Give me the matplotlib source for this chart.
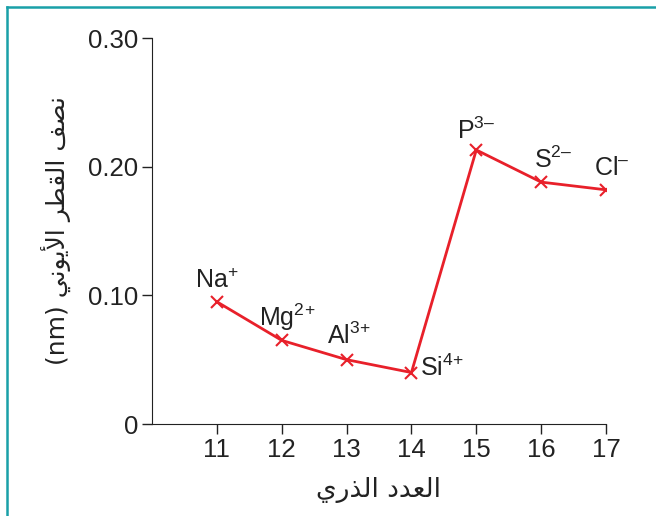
import matplotlib
matplotlib.use("Agg")
import matplotlib.pyplot as plt
from matplotlib.lines import Line2D

plt.rcParams['font.family'] = ['Liberation Sans', 'DejaVu Sans']
plt.rcParams['mathtext.fontset'] = 'custom'
plt.rcParams['mathtext.rm'] = 'Liberation Sans'
plt.rcParams['mathtext.it'] = 'Liberation Sans'

# data
atomic_number = [11, 12, 13, 14, 15, 16, 17]
ionic_radius = [0.095, 0.065, 0.050, 0.040, 0.213, 0.188, 0.182]
ion_labels = ['Na$^{+}$', 'Mg$^{2\\!+}$', 'Al$^{3\\!+}$', 'Si$^{4\\!+}$',
              'P$^{3\u2013}$', 'S$^{2\u2013}$', 'Cl$^{\u2013}$']
y_ticks = [0, 0.10, 0.20, 0.30]
y_tick_labels = ['0', '0.10', '0.20', '0.30']

# Arabic text written in presentation forms, visual order (no shaping in mpl)
x_label = '\uFEF1\uFEAD\uFEAC\uFEDF\uFE8D \uFEA9\uFEAA\uFECC\uFEDF\uFE8D'
y_label = ('(nm) \uFEF2\uFEE7\uFEEE\uFEF3\uFEF7\uFE8D '
           '\uFEAE\uFEC4\uFED8\uFEDF\uFE8D \uFED2\uFEBC\uFEE7')

fig = plt.figure(figsize=(6.56, 5.16), dpi=100)
ax = fig.add_axes([152 / 656, 1 - 424 / 516, 454 / 656, 386 / 516])

red = '#e8202a'
ink = '#222222'
ax.plot(atomic_number, ionic_radius, color=red, lw=2.0,
        marker='x', ms=9, mew=1.5)

# label offsets in points (dx, dy, ha), baseline aligned
offsets = [(0, 10, 'center'), (4, 10, 'center'), (1.5, 11.5, 'center'),
           (6.5, -2.5, 'left'), (0, 8, 'center'), (9, 10, 'center'), (4, 11, 'center')]
for x, y, lab, (dx, dy, ha) in zip(atomic_number, ionic_radius, ion_labels, offsets):
    ax.annotate(lab, (x, y), xytext=(dx, dy), textcoords='offset points',
                ha=ha, va='baseline', fontsize=18, color=ink)

ax.set_xlim(10, 17)
ax.set_ylim(0, 0.30)
ax.set_xticks(atomic_number)
ax.set_yticks(y_ticks)
ax.set_yticklabels(y_tick_labels)
ax.tick_params(labelsize=18.5, length=7, width=1, colors=ink, direction='out', pad=3)
for side in ['top', 'right']:
    ax.spines[side].set_visible(False)
for side in ['left', 'bottom']:
    ax.spines[side].set_color(ink)

ax.set_xlabel(x_label, fontsize=19, family='DejaVu Sans', labelpad=11, color=ink)
ax.set_ylabel(y_label, fontsize=18, family='DejaVu Sans', labelpad=12, color=ink)

# teal frame on top and left
teal = '#19a0a8'
fig.add_artist(Line2D([7 / 656, 1], [1 - 7 / 516] * 2, color=teal, lw=1.8,
                      transform=fig.transFigure))
fig.add_artist(Line2D([7 / 656] * 2, [0, 1 - 7 / 516], color=teal, lw=1.8,
                      transform=fig.transFigure))

fig.savefig('out.png', dpi=100)
